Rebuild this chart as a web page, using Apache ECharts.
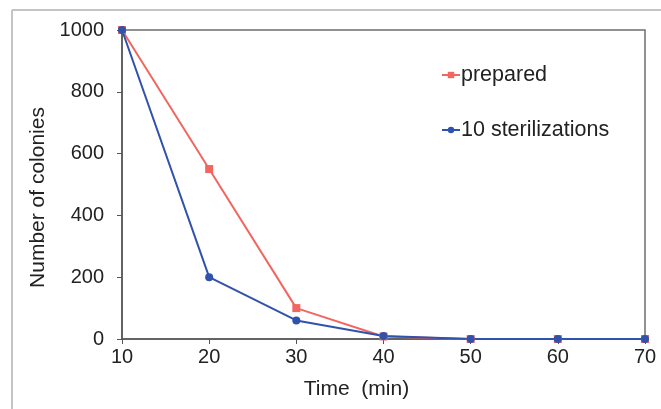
<!DOCTYPE html>
<html><head><meta charset="utf-8">
<script src="https://cdn.jsdelivr.net/npm/echarts@6/dist/echarts.min.js"></script>
<style>html,body{margin:0;padding:0;background:#fff}#c{width:661px;height:409px}</style>
</head><body><div id="c"></div>
<script>
const times = [10, 20, 30, 40, 50, 60, 70];
const prepared = [1000, 550, 100, 8, 0, 0, 0];
const sterilized = [1000, 200, 60, 10, 0, 0, 0];
const seriesNames = ['prepared', '10 sterilizations'];
const xTitle = 'Time  (min)';
const yTitle = 'Number of colonies';

const chart = echarts.init(document.getElementById('c'));
const font = 'Liberation Sans, Arial, sans-serif';
chart.setOption({
  animation: false,
  textStyle: {fontFamily: font},
  graphic: [
    {type: 'line', shape: {x1: 12, y1: 10, x2: 661, y2: 10}, style: {stroke: '#c4c4c4', lineWidth: 2}},
    {type: 'line', shape: {x1: 12, y1: 10, x2: 12, y2: 409}, style: {stroke: '#c4c4c4', lineWidth: 2}}
  ],
  grid: {left: 122, right: 16, top: 30, bottom: 70, show: true, borderColor: '#6e6e6e', borderWidth: 1.5},
  legend: {
    orient: 'vertical', left: 436, top: 59, itemGap: 33, itemWidth: 18, itemHeight: 8,
    textStyle: {fontSize: 21.5, color: '#222', fontFamily: font, padding: [0, 0, 0, -4]},
    data: seriesNames
  },
  xAxis: {
    type: 'value', min: 10, max: 70, interval: 10,
    name: xTitle, nameLocation: 'middle', nameGap: 40,
    nameTextStyle: {fontSize: 21, color: '#222', fontFamily: font, padding: [0, 54, 0, 0]},
    axisLine: {lineStyle: {color: '#555', width: 1.5}},
    axisTick: {show: true, length: 5, lineStyle: {color: '#555'}},
    axisLabel: {fontSize: 20, color: '#222', margin: 8, fontFamily: font},
    splitLine: {show: false}
  },
  yAxis: {
    type: 'value', min: 0, max: 1000, interval: 200,
    name: yTitle, nameLocation: 'middle', nameGap: 68,
    nameTextStyle: {fontSize: 21, color: '#222', fontFamily: font, padding: [0, 26, 0, 0]},
    axisLine: {show: true, lineStyle: {color: '#555', width: 1.5}},
    axisTick: {show: true, length: 5, lineStyle: {color: '#555'}},
    axisLabel: {fontSize: 20, color: '#222', margin: 18, fontFamily: font, formatter: v => String(v)},
    splitLine: {show: false}
  },
  series: [
    {name: seriesNames[0], type: 'line', data: times.map((t, i) => [t, prepared[i]]),
     symbol: 'rect', symbolSize: 8, color: '#f2665f', lineStyle: {width: 2}},
    {name: seriesNames[1], type: 'line', data: times.map((t, i) => [t, sterilized[i]]),
     symbol: 'circle', symbolSize: 8, color: '#2f52ad', lineStyle: {width: 2}}
  ]
});
</script></body></html>
